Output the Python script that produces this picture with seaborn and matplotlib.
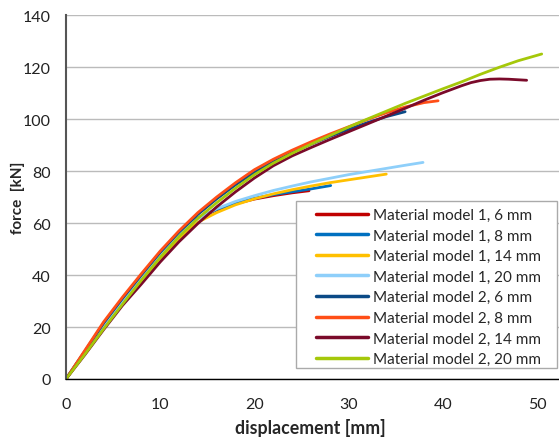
import numpy as np
import pandas as pd
import matplotlib
matplotlib.use("Agg")
import matplotlib.pyplot as plt
from matplotlib.patches import Rectangle
import seaborn as sns

# ---- data ----
labels = ["Material model 1, 6 mm", "Material model 1, 8 mm",
          "Material model 1, 14 mm", "Material model 1, 20 mm",
          "Material model 2, 6 mm", "Material model 2, 8 mm",
          "Material model 2, 14 mm", "Material model 2, 20 mm"]

m1_6_x = [0, 2, 4, 6, 8, 10, 12, 13, 14, 16, 18, 20, 22, 24, 25.8]
m1_6_y = [0, 10.4, 20.8, 30.5, 39.7, 48.2, 56.2, 59.5, 61.8, 65, 67.4, 69.2, 70.5, 71.6, 72.4]

m1_8_x = [0, 2, 4, 6, 8, 10, 12, 13, 14, 16, 18, 20, 22, 24, 26, 28.1]
m1_8_y = [0, 10.5, 21, 30.8, 40, 48.5, 56.5, 59.8, 62, 65.2, 67.6, 69.5, 70.9, 72, 73.1, 74.4]

m1_14_x = [0, 2, 4, 6, 8, 10, 12, 13, 14, 16, 18, 20, 22, 24, 26, 28, 30, 32, 34]
m1_14_y = [0, 9.8, 19.5, 29, 38, 46.3, 54, 57.5, 60.3, 64, 67, 69.3, 71.2, 72.8, 74.2, 75.5,
           76.6, 77.7, 78.8]

m1_20_x = [0, 2, 4, 6, 8, 10, 12, 13, 14, 16, 18, 20, 22, 24, 26, 28, 30, 32, 34, 36, 37.9]
m1_20_y = [0, 10.3, 20.5, 30, 39, 47.5, 55.6, 59, 61.6, 65.5, 68.3, 70.5, 72.5, 74.2, 75.8,
           77.2, 78.6, 79.8, 81, 82.2, 83.3]

m2_6_x = [0, 2, 4, 6, 8, 10, 12, 14, 16, 18, 20, 22, 24, 26, 28, 30, 32, 34, 36]
m2_6_y = [0, 10.7, 21.5, 31, 40, 48.7, 56.5, 63.3, 69.3, 74.7, 79.5, 83.6, 87.1, 90.3, 93.3,
          96, 98.6, 100.9, 102.8]

m2_8_x = [0, 2, 4, 6, 8, 10, 12, 14, 16, 18, 20, 22, 24, 26, 28, 30, 32, 34, 36, 38, 39.5]
m2_8_y = [0, 11, 22, 31.5, 40.5, 49.2, 57, 64, 70, 75.5, 80.5, 84.5, 88, 91.2, 94.2, 97,
          99.8, 102.4, 104.6, 106.3, 107]

m2_14_x = [0, 2, 4, 6, 8, 10, 12, 14, 16, 18, 20, 22, 24, 26, 28, 30, 32, 34, 36, 38, 40,
           42, 43, 44, 45, 46, 47, 48.9]
m2_14_y = [0, 9.3, 19, 28.3, 36.5, 45, 52.8, 59.8, 66.2, 72, 77.3, 82, 85.8, 89, 92.1, 95.1,
           98.1, 101.1, 104.1, 107.2, 110.1, 112.8, 114, 114.8, 115.3, 115.4, 115.3, 114.9]

m2_20_x = [0, 2, 4, 6, 8, 10, 12, 14, 16, 18, 20, 22, 24, 26, 28, 30, 32, 34, 36, 38, 40,
           42, 44, 46, 48, 50.5]
m2_20_y = [0, 9.5, 19.3, 28.8, 38, 46.8, 54.8, 61.8, 67.8, 73.4, 78.6, 83, 86.8, 90.3, 93.6,
           96.9, 100, 103, 106, 108.8, 111.6, 114.3, 117.2, 119.9, 122.4, 125]

xs = [m1_6_x, m1_8_x, m1_14_x, m1_20_x, m2_6_x, m2_8_x, m2_14_x, m2_20_x]
ys = [m1_6_y, m1_8_y, m1_14_y, m1_20_y, m2_6_y, m2_8_y, m2_14_y, m2_20_y]

colors = ["#C00000", "#0070C0", "#FFC000", "#8ECFFA",
          "#0B4A86", "#FF4E17", "#7A0A2A", "#A5C80A"]

x_ticks = [0, 10, 20, 30, 40, 50]
y_ticks = [0, 20, 40, 60, 80, 100, 120, 140]

frames = []
for lab, x, y in zip(labels, xs, ys):
    frames.append(pd.DataFrame({"series": lab, "x": x, "y": y}))
df = pd.concat(frames, ignore_index=True)

sns.set_style("white")
plt.rcParams["font.family"] = ["Lato", "DejaVu Sans"]

W, H = 559, 439
fig = plt.figure(figsize=(W / 100, H / 100), dpi=100)
ax = fig.add_axes([66 / W, (H - 380) / H, (W - 66) / W, (380 - 16) / H])

sns.lineplot(data=df, x="x", y="y", hue="series", hue_order=labels,
             palette=dict(zip(labels, colors)), sort=False, estimator=None,
             units="series", linewidth=2.0, ax=ax, legend=True)

ax.set_xlim(0, (W - 66) / 9.42)
ax.set_ylim(0, 140)
ax.set_xticks(x_ticks)
ax.set_yticks(y_ticks)
ax.tick_params(axis="x", labelsize=11.5, length=0, pad=13, colors="#222222")
ax.tick_params(axis="y", labelsize=11.5, length=0, pad=11, colors="#222222")
ax.yaxis.grid(True, color="#BBBBBB", linewidth=1.0)
ax.xaxis.grid(False)
ax.set_axisbelow(True)

for s in ["top", "right"]:
    ax.spines[s].set_visible(False)
ax.spines["left"].set_color("#555555")
ax.spines["left"].set_linewidth(1.5)
ax.spines["bottom"].set_color("#000000")
ax.spines["bottom"].set_linewidth(1.0)

ax.set_xlabel("displacement [mm]", fontsize=12.8, fontweight="bold")
ax.set_ylabel("force  [kN]", fontsize=11, fontweight="bold")
ax.xaxis.set_label_coords((310 - 66) / 493, (380 - 419) / 364)
ax.yaxis.set_label_coords((25 - 66) / 493, (380 - 198) / 364)

handles, labs = ax.get_legend_handles_labels()
fs = 11
fpx = fs * 100 / 72
leg = ax.legend(handles, labs, loc="upper left",
                bbox_to_anchor=(316 / W, (H - 209) / H), bbox_transform=fig.transFigure,
                frameon=False, fontsize=fs, handlelength=52 / fpx,
                handletextpad=5 / fpx, labelspacing=0.43,
                borderpad=0, borderaxespad=0)
for line in leg.get_lines():
    line.set_linewidth(2.5)
leg.set_zorder(6)

# legend frame (white box with grey border, behind the legend entries)
ax.add_patch(Rectangle((296 / W, (H - 369) / H), 261 / W, 167 / H,
                       transform=fig.transFigure, facecolor="white",
                       edgecolor="#AAAAAA", linewidth=1.0, zorder=5, clip_on=False))

fig.savefig("out.png", dpi=100)
